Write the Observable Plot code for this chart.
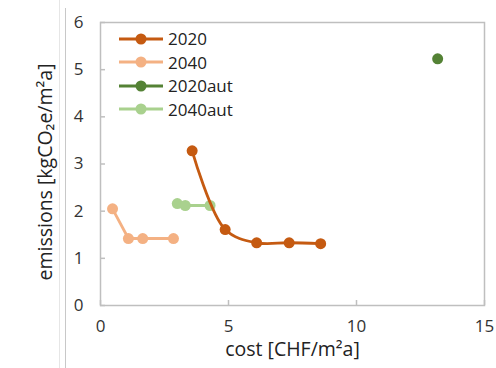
<!DOCTYPE html>
<html>
<head>
<meta charset="utf-8">
<script src="https://cdn.jsdelivr.net/npm/d3@7"></script>
<script src="https://cdn.jsdelivr.net/npm/@observablehq/plot@0.6"></script>
<style>
  html, body { margin: 0; padding: 0; background: #fff; }
  #wrap { position: relative; width: 496px; height: 368px; font-family: "Open Sans", sans-serif; }
  .edge { position: absolute; width: 1px; }
  #legend { position: absolute; left: 119px; top: 27px; font-size: 17px; color: #222; }
  .row { display: flex; align-items: center; height: 23.5px; }
  .row svg { margin-right: 5px; }
</style>
</head>
<body>
<div id="wrap">
  <div class="edge" style="left:59px;top:0;bottom:0;background:#e6e6e6"></div>
  <div class="edge" style="left:65px;top:8px;bottom:0;background:#c8c8c8"></div>
  <div id="legend"></div>
</div>
<script>
const seriesNames = ["2020", "2040", "2020aut", "2040aut"];
const seriesColors = ["#C55A11", "#F4B183", "#548235", "#A9D18E"];

const cost2020 = [3.58, 4.87, 6.10, 7.37, 8.60];
const emis2020 = [3.28, 1.61, 1.33, 1.33, 1.31];
const cost2040 = [0.47, 1.09, 1.65, 2.85];
const emis2040 = [2.05, 1.42, 1.42, 1.42];
const cost2020aut = [13.17];
const emis2020aut = [5.23];
const cost2040aut = [3.00, 3.31, 4.28];
const emis2040aut = [2.16, 2.12, 2.12];

const xTicks = [0, 5, 10, 15];
const yTicks = [0, 1, 2, 3, 4, 5, 6];
const xLabel = "cost [CHF/m²a]";
const yLabel = "emissions [kgCO₂e/m²a]";

const toRows = (name, xs, ys) => xs.map((c, i) => ({series: name, cost: c, emis: ys[i]}));
const s2020 = toRows("2020", cost2020, emis2020);
const s2040 = toRows("2040", cost2040, emis2040);
const s2020aut = toRows("2020aut", cost2020aut, emis2020aut);
const s2040aut = toRows("2040aut", cost2040aut, emis2040aut);
const col = Object.fromEntries(seriesNames.map((n, i) => [n, seriesColors[i]]));

const chart = Plot.plot({
  width: 496,
  height: 368,
  marginLeft: 100,
  marginRight: 12,
  marginTop: 22,
  marginBottom: 63,
  style: {fontFamily: "Open Sans, sans-serif", fontSize: "17px", color: "#222", background: "transparent"},
  x: {domain: [0, 15], ticks: xTicks, label: null},
  y: {domain: [0, 6], ticks: yTicks, label: null},
  marks: [
    Plot.frame({stroke: "#bfbfbf", strokeWidth: 1.5}),
    Plot.axisX(xTicks, {tickSize: 5, dy: -5, text: null, label: null, stroke: "#bfbfbf", strokeWidth: 1.5}),
    Plot.axisY(yTicks, {tickSize: 5, dx: 5, text: null, label: null, stroke: "#bfbfbf", strokeWidth: 1.5}),
    Plot.axisX(xTicks, {tickSize: 0, tickPadding: 14, label: null, fontSize: 17, fill: "#333"}),
    Plot.axisY(yTicks, {tickSize: 0, tickPadding: 17, label: null, fontSize: 17, fill: "#333"}),
    Plot.text([xLabel], {frameAnchor: "bottom", dy: 50, fontSize: 19.5, fill: "#222"}),
    Plot.text([yLabel], {frameAnchor: "left", textAnchor: "middle", rotate: -90, dx: -55, dy: 8, fontSize: 19.5, fill: "#222"}),
    Plot.line(s2040, {x: "cost", y: "emis", stroke: col["2040"], strokeWidth: 2.8}),
    Plot.dot(s2040, {x: "cost", y: "emis", fill: col["2040"], r: 5.5}),
    Plot.line(s2040aut, {x: "cost", y: "emis", stroke: col["2040aut"], strokeWidth: 2.8}),
    Plot.dot(s2040aut, {x: "cost", y: "emis", fill: col["2040aut"], r: 5.5}),
    Plot.line(s2020, {x: "cost", y: "emis", stroke: col["2020"], strokeWidth: 2.8, curve: "catmull-rom"}),
    Plot.dot(s2020, {x: "cost", y: "emis", fill: col["2020"], r: 5.5}),
    Plot.dot(s2020aut, {x: "cost", y: "emis", fill: col["2020aut"], r: 5.5})
  ]
});
document.getElementById("wrap").insertBefore(chart, document.getElementById("legend"));

const legend = document.getElementById("legend");
seriesNames.forEach((n, i) => {
  const row = document.createElement("div");
  row.className = "row";
  row.innerHTML = `<svg width="44" height="12"><line x1="0" x2="44" y1="6" y2="6" stroke="${seriesColors[i]}" stroke-width="2.8"/><circle cx="22" cy="6" r="5.5" fill="${seriesColors[i]}"/></svg><span>${n}</span>`;
  legend.appendChild(row);
});
</script>
</body>
</html>
